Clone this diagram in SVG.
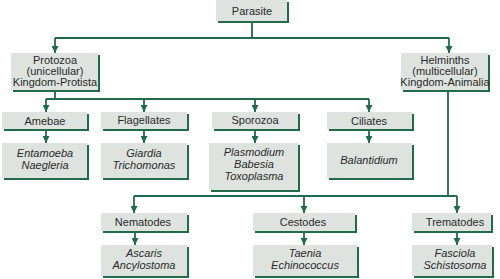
<svg xmlns="http://www.w3.org/2000/svg" width="500" height="279" viewBox="0 0 500 279">
<defs>
<style>
.sh{fill:#1f6b4a}
.bx{fill:#dfe3e0}
.t{font-family:"Liberation Sans",Arial,sans-serif;font-size:11px;fill:#2a2a2a;text-anchor:middle}
.i{font-style:italic}
.c{fill:none;stroke:#1f6b4a;stroke-width:1.8}
</style>
<marker id="ah" markerUnits="userSpaceOnUse" markerWidth="7" markerHeight="7" refX="7" refY="3.5" orient="auto">
<path d="M0,0 L7,3.5 L0,7 z" fill="#1f6b4a"/>
</marker>
</defs>
<rect width="500" height="279" fill="#ffffff"/>
<g id="connectors">
<path class="c" d="M252,23 V38 M55,38 H449"/>
<path class="c" d="M55,38 V53" marker-end="url(#ah)"/>
<path class="c" d="M449,38 V53" marker-end="url(#ah)"/>
<path class="c" d="M55,92 V99 M46,99 H369"/>
<path class="c" d="M46,99 V112" marker-end="url(#ah)"/>
<path class="c" d="M144,99 V112" marker-end="url(#ah)"/>
<path class="c" d="M255,99 V112" marker-end="url(#ah)"/>
<path class="c" d="M369,99 V112" marker-end="url(#ah)"/>
<path class="c" d="M46,131 V143" marker-end="url(#ah)"/>
<path class="c" d="M144,131 V143" marker-end="url(#ah)"/>
<path class="c" d="M255,131 V143" marker-end="url(#ah)"/>
<path class="c" d="M369,131 V143" marker-end="url(#ah)"/>
<path class="c" d="M448,92 V196 M134,196 H457"/>
<path class="c" d="M134,196 V213" marker-end="url(#ah)"/>
<path class="c" d="M304,196 V213" marker-end="url(#ah)"/>
<path class="c" d="M457,196 V213" marker-end="url(#ah)"/>
<path class="c" d="M135,233 V245" marker-end="url(#ah)"/>
<path class="c" d="M304,233 V245" marker-end="url(#ah)"/>
<path class="c" d="M457,233 V245" marker-end="url(#ah)"/>
</g>
<g id="parasite"><rect class="sh" x="218" y="2" width="71" height="21"/><rect class="bx" x="216" y="0" width="71" height="21"/><text class="t" x="252" y="15">Parasite</text></g>
<g id="protozoa"><rect class="sh" x="13" y="55" width="87" height="37"/><rect class="bx" x="11" y="53" width="87" height="37"/><text class="t" x="55" y="64">Protozoa</text><text class="t" x="55" y="75">(unicellular)</text><text class="t" x="55" y="86">Kingdom-Protista</text></g>
<g id="helminths"><rect class="sh" x="403" y="55" width="87" height="37"/><rect class="bx" x="401" y="53" width="87" height="37"/><text class="t" x="445" y="64">Helminths</text><text class="t" x="445" y="75">(multicellular)</text><text class="t" x="445" y="86">Kingdom-Animalia</text></g>
<g id="amebae"><rect class="sh" x="4" y="114" width="85" height="17"/><rect class="bx" x="2" y="112" width="85" height="17"/><text class="t" x="45" y="125">Amebae</text></g>
<g id="flagellates"><rect class="sh" x="103" y="114" width="86" height="17"/><rect class="bx" x="101" y="112" width="86" height="17"/><text class="t" x="144" y="124">Flagellates</text></g>
<g id="sporozoa"><rect class="sh" x="214" y="114" width="86" height="17"/><rect class="bx" x="212" y="112" width="86" height="17"/><text class="t" x="255" y="124">Sporozoa</text></g>
<g id="ciliates"><rect class="sh" x="329" y="114" width="85" height="17"/><rect class="bx" x="327" y="112" width="85" height="17"/><text class="t" x="369" y="125">Ciliates</text></g>
<g id="entamoeba"><rect class="sh" x="4" y="145" width="85" height="35"/><rect class="bx" x="2" y="143" width="85" height="35"/><text class="t i" x="45" y="157">Entamoeba</text><text class="t i" x="45" y="169">Naegleria</text></g>
<g id="giardia"><rect class="sh" x="103" y="145" width="86" height="35"/><rect class="bx" x="101" y="143" width="86" height="35"/><text class="t i" x="144" y="157">Giardia</text><text class="t i" x="144" y="169">Trichomonas</text></g>
<g id="plasmodium"><rect class="sh" x="211" y="145" width="89" height="47"/><rect class="bx" x="209" y="143" width="89" height="47"/><text class="t i" x="254" y="156">Plasmodium</text><text class="t i" x="254" y="168">Babesia</text><text class="t i" x="254" y="180">Toxoplasma</text></g>
<g id="balantidium"><rect class="sh" x="329" y="145" width="85" height="35"/><rect class="bx" x="327" y="143" width="85" height="35"/><text class="t i" x="369" y="164">Balantidium</text></g>
<g id="nematodes"><rect class="sh" x="103" y="215" width="86" height="18"/><rect class="bx" x="101" y="213" width="86" height="18"/><text class="t" x="143" y="226">Nematodes</text></g>
<g id="cestodes"><rect class="sh" x="255" y="215" width="102" height="18"/><rect class="bx" x="253" y="213" width="102" height="18"/><text class="t" x="303" y="226">Cestodes</text></g>
<g id="trematodes"><rect class="sh" x="414" y="215" width="79" height="18"/><rect class="bx" x="412" y="213" width="79" height="18"/><text class="t" x="455" y="226">Trematodes</text></g>
<g id="ascaris"><rect class="sh" x="103" y="247" width="86" height="31"/><rect class="bx" x="101" y="245" width="86" height="31"/><text class="t i" x="144" y="257">Ascaris</text><text class="t i" x="144" y="269">Ancylostoma</text></g>
<g id="taenia"><rect class="sh" x="255" y="247" width="104" height="31"/><rect class="bx" x="253" y="245" width="104" height="31"/><text class="t i" x="305" y="257">Taenia</text><text class="t i" x="305" y="269">Echinococcus</text></g>
<g id="fasciola"><rect class="sh" x="414" y="247" width="80" height="31"/><rect class="bx" x="412" y="245" width="80" height="31"/><text class="t i" x="455" y="257">Fasciola</text><text class="t i" x="455" y="269">Schistosoma</text></g>
</svg>
